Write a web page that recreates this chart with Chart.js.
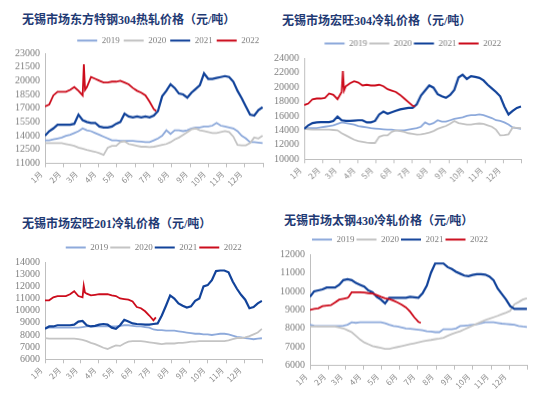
<!DOCTYPE html>
<html lang="zh-CN">
<head>
    <meta charset="UTF-8"/>
    <title>无锡市场不锈钢价格</title>
    <script src="https://cdn.jsdelivr.net/npm/chart.js@4.4.1/dist/chart.umd.min.js"></script>
    <style>
        body { margin: 0; background: #fff; }
        #page { position: relative; width: 554px; height: 404px; overflow: hidden; }
        .panel { position: absolute; }
        .title {
            position: absolute;
            font-family: "Liberation Serif", "Noto Sans CJK SC", serif;
            font-weight: bold;
            font-size: 12px;
            line-height: 14px;
            color: #1f3a74;
            white-space: nowrap;
        }
    </style>
</head>
<body>

<div id="page">
    <div class="title" style="left:22px; top:13px;">无锡市场东方特钢304热轧价格（元/吨）</div>
    <div class="title" style="left:282px; top:14px;">无锡市场宏旺304冷轧价格（元/吨）</div>
    <div class="title" style="left:22px; top:217px;">无锡市场宏旺201冷轧价格（元/吨）</div>
    <div class="title" style="left:284px; top:214px;">无锡市场太钢430冷轧价格（元/吨）</div>

    <div class="panel" style="left:5px; top:32.3px; width:267px; height:154.4px;"><canvas id="hr304"></canvas></div>
    <div class="panel" style="left:264.3px; top:37px; width:265.4px; height:146.3px;"><canvas id="cr304"></canvas></div>
    <div class="panel" style="left:5px; top:241px; width:266.3px; height:142.3px;"><canvas id="cr201"></canvas></div>
    <div class="panel" style="left:270px; top:233px; width:266.3px; height:155.7px;"><canvas id="cr430"></canvas></div>
</div>

<script>

    // x axis: day of year, month labels at month starts
    const months = ['1月', '2月', '3月', '4月', '5月', '6月', '7月', '8月', '9月', '10月', '11月', '12月'];
    const monthStarts = [0, 31, 59, 90, 120, 151, 181, 212, 243, 273, 304, 334, 365];
    const years = ['2019', '2020', '2021', '2022'];

    // weekly sample days for 2019-2021
    const weekDays = [0, 7, 14, 21, 28, 35, 42, 49, 56, 63, 70, 77, 84, 91, 98, 105, 112, 119, 126, 133,
        140, 147, 154, 161, 168, 175, 182, 189, 196, 203, 210, 217, 224, 231, 238, 245, 252, 259, 266, 273,
        280, 287, 294, 301, 308, 315, 322, 329, 336, 343, 350, 357, 364];
    // sample days for 2022 (extra points round the March spike)
    const days2022 = [0, 7, 14, 21, 28, 35, 42, 49, 56, 63, 65, 67, 70, 77, 84, 91, 98, 105, 112, 119,
        126, 133, 140, 147, 154, 161, 168, 175, 182, 186];

    // 东方特钢304热轧
    const hr304_2019 = [13500, 13500, 13600, 13700, 13800, 14000, 14100, 14300, 14500, 14800,
        14600, 14500, 14300, 14100, 13900, 13700, 13500, 13500, 13450, 13450,
        13450, 13450, 13400, 13350, 13300, 13300, 13500, 13700, 14000, 14600,
        14200, 14600, 14600, 14500, 14600, 14800, 14900, 14900, 15000, 15000,
        15100, 15400, 15100, 15000, 14900, 14800, 14500, 14000, 13700, 13300,
        13300, 13250, 13200];
    const hr304_2020 = [13200, 13200, 13200, 13200, 13200, 13100, 13000, 12900, 12700, 12600,
        12450, 12350, 12250, 12100, 11900, 12700, 12900, 12900, 13300, 13400,
        13100, 13000, 12900, 12800, 12800, 12750, 12800, 12900, 13000, 13100,
        13300, 13600, 13800, 14100, 14400, 14700, 14800, 14600, 14500, 14400,
        14300, 14300, 14400, 14500, 14400, 13900, 13000, 12950, 12950, 13200,
        13800, 13700, 14000];
    const hr304_2021 = [14000, 14500, 14800, 15200, 15200, 15200, 15200, 15300, 16300, 15700,
        15500, 15400, 15400, 15000, 14900, 14900, 15000, 15300, 15500, 16400,
        16100, 16000, 16100, 16000, 16100, 16000, 16200, 16700, 18300, 18900,
        19600, 19200, 18600, 18500, 18150, 18700, 19100, 19500, 20800, 20200,
        20200, 20300, 20400, 20500, 20400, 19900, 18900, 18100, 17200, 16300,
        16200, 16800, 17100];
    const hr304_2022 = [17200, 17400, 18400, 18800, 18800, 18800, 19000, 19300, 18900, 18400,
        21800, 19000, 19300, 20400, 20200, 20000, 19800, 19800, 19900, 19900,
        20000, 19800, 19600, 19200, 18900, 18700, 18400, 17700, 16900, 16700];

    // 宏旺304冷轧
    const cr304_2019 = [14300, 14300, 14300, 14300, 14400, 14500, 14600, 14700, 14900, 15100,
        15000, 14900, 14800, 14600, 14500, 14400, 14300, 14250, 14200, 14150,
        14100, 14100, 14000, 14000, 14000, 14100, 14200, 14300, 14500, 15100,
        14800, 15000, 15400, 15200, 15200, 15400, 15600, 15700, 15800, 16000,
        16100, 16100, 16200, 16100, 15900, 15700, 15400, 15300, 15100, 14800,
        14400, 14300, 14200];
    const cr304_2020 = [14200, 14150, 14100, 14100, 14100, 14100, 14100, 14050, 14000, 13600,
        13300, 13000, 12700, 12500, 12400, 12300, 12250, 12250, 13100, 13300,
        13300, 13800, 14000, 13900, 13800, 13600, 13500, 13400, 13450, 13550,
        13700, 13900, 14200, 14400, 14600, 14900, 15300, 15000, 14900, 14800,
        14800, 14900, 14950, 14900, 14700, 14500, 14100, 13300, 13350, 13450,
        14400, 14350, 14300];
    const cr304_2021 = [14200, 14700, 15000, 15100, 15150, 15150, 15150, 15300, 15900, 15400,
        15300, 15300, 15350, 15400, 15400, 15100, 15100, 15300, 16200, 16600,
        16300, 16500, 16700, 16900, 17000, 17100, 17100, 17600, 18800, 19500,
        20200, 19900, 19000, 18700, 18500, 18900, 19600, 21300, 21700, 21100,
        21500, 21400, 21250, 20900, 20300, 19800, 19300, 18700, 17300, 16200,
        16700, 17100, 17300];
    const cr304_2022 = [17500, 17700, 18300, 18400, 18400, 18500, 19100, 18900, 18300, 19300,
        22200, 19500, 20100, 20500, 20800, 20600, 20200, 20300, 20200, 20200,
        20300, 20100, 19700, 19500, 19300, 18900, 18400, 17900, 17400, 17300];

    // 宏旺201冷轧
    const cr201_2019 = [8600, 8600, 8600, 8600, 8600, 8600, 8600, 8600, 8600, 8650,
        8700, 8700, 8700, 8700, 8700, 8700, 8700, 8700, 8750, 8800,
        8800, 8750, 8700, 8700, 8650, 8600, 8450, 8400, 8400, 8350,
        8350, 8350, 8300, 8250, 8200, 8150, 8100, 8100, 8050, 8050,
        8000, 8050, 8100, 8100, 8050, 7950, 7850, 7800, 7750, 7700,
        7650, 7700, 7730];
    const cr201_2020 = [7750, 7700, 7700, 7700, 7700, 7700, 7700, 7700, 7650, 7600,
        7500, 7350, 7250, 7100, 6950, 6850, 7000, 7150, 7100, 7300,
        7450, 7500, 7500, 7500, 7450, 7400, 7350, 7300, 7250, 7300,
        7300, 7300, 7350, 7350, 7400, 7450, 7450, 7500, 7500, 7500,
        7500, 7500, 7500, 7500, 7550, 7650, 7750, 7750, 7800, 7900,
        8050, 8200, 8500];
    const cr201_2021 = [8500, 8700, 8700, 8800, 8800, 8800, 8800, 8850, 9100, 9150,
        8800, 8700, 8750, 8850, 8900, 8850, 8600, 8500, 8800, 9250,
        9100, 8950, 8900, 8880, 8850, 8850, 8900, 8950, 9600, 10400,
        11250, 11000, 10600, 10400, 10250, 10350, 10800, 11000, 12000, 12100,
        12500, 13250, 13300, 13300, 13150, 12400, 11800, 11300, 10900, 10200,
        10300, 10600, 10800];
    const cr201_2022 = [10850, 10850, 11100, 11200, 11200, 11200, 11350, 11600, 11200, 11100,
        12050, 11500, 11400, 11250, 11300, 11350, 11350, 11350, 11250, 11200,
        11000, 10950, 10900, 10750, 10300, 10200, 9950, 9600, 9200, 9450];

    // 太钢430冷轧
    const cr430_2019 = [8200, 8150, 8130, 8130, 8130, 8130, 8130, 8130, 8150, 8200,
        8330, 8300, 8330, 8330, 8330, 8330, 8330, 8330, 8280, 8200,
        8130, 8100, 8050, 8000, 7980, 7960, 7930, 7900, 7850, 7830,
        7800, 7800, 7960, 7960, 7960, 8000, 8130, 8150, 8170, 8200,
        8230, 8280, 8330, 8330, 8330, 8300, 8260, 8240, 8220, 8200,
        8130, 8100, 8080];
    const cr430_2020 = [8100, 8100, 8100, 8100, 8100, 8100, 8100, 8050, 8000, 7900,
        7800, 7600, 7400, 7250, 7150, 7050, 7000, 6950, 6900, 6900,
        6950, 7000, 7050, 7100, 7150, 7200, 7250, 7300, 7350, 7380,
        7420, 7450, 7500, 7600, 7700, 7780, 7850, 7950, 8050, 8150,
        8250, 8350, 8450, 8520, 8600, 8680, 8770, 8850, 8950, 9300,
        9420, 9550, 9620];
    const cr430_2021 = [9700, 10000, 10050, 10100, 10200, 10200, 10200, 10350, 10600, 10650,
        10600, 10450, 10350, 10250, 10050, 9950, 9700, 9550, 9350, 9650,
        9650, 9650, 9650, 9650, 9700, 9680, 9650, 9900, 10300, 11000,
        11500, 11500, 11500, 11300, 11200, 11050, 10950, 10850, 10820, 10880,
        10920, 10920, 10900, 10800, 10600, 10150, 9850, 9550, 9200, 9050,
        9050, 9050, 9050];
    const cr430_2022 = [9000, 9050, 9080, 9200, 9230, 9250, 9400, 9550, 9600, 9650,
        9700, 9800, 9950, 9950, 9950, 9930, 9900, 9880, 9800, 9700,
        9620, 9580, 9500, 9400, 9280, 9130, 8900, 8600, 8350, 8300];

    const colors = ['#8eaadb', '#c4c4c4', '#12439a', '#cc0c1c'];
    const widths = [1.8, 1.8, 2.2, 1.8];
    const axisGrey = '#bfbfbf';
    const textGrey = '#7f7f7f';

    Chart.defaults.animation = false;

    function toPoints(days, values) {
        return days.map((d, i) => ({x: d, y: values[i]}));
    }

    function makeChart(id, series, yMin, yMax, yStep, legendAlign, legendPad) {
        const dayGrids = [weekDays, weekDays, weekDays, days2022];
        const ctx = document.getElementById(id).getContext('2d');
        return new Chart(ctx, {
            type: 'line',
            data: {
                datasets: series.map((values, i) => ({
                    label: years[i],
                    data: toPoints(dayGrids[i], values),
                    borderColor: colors[i],
                    backgroundColor: colors[i],
                    borderWidth: widths[i],
                    pointRadius: 0,
                    tension: 0,
                    // later years drawn on top
                    order: 4 - i
                }))
            },
            options: {
                responsive: true,
                maintainAspectRatio: false,
                layout: {padding: {right: 4}},
                scales: {
                    x: {
                        type: 'linear',
                        min: 0,
                        max: 365,
                        afterBuildTicks: axis => {
                            axis.ticks = monthStarts.map(v => ({value: v}));
                        },
                        afterFit: axis => {
                            axis.height = 24;
                        },
                        ticks: {
                            autoSkip: false,
                            minRotation: 45,
                            maxRotation: 45,
                            padding: 2,
                            labelOffset: -4,
                            color: '#8c8c8c',
                            font: {family: 'Noto Sans CJK SC', size: 8},
                            callback: (value, index) => months[index] || ''
                        },
                        grid: {drawOnChartArea: false, tickLength: 4, color: axisGrey},
                        border: {color: axisGrey}
                    },
                    y: {
                        min: yMin,
                        max: yMax,
                        afterFit: axis => {
                            axis.width = 40;
                        },
                        ticks: {
                            stepSize: yStep,
                            autoSkip: false,
                            padding: 5,
                            color: textGrey,
                            font: {family: 'Liberation Serif', size: 10},
                            callback: value => String(value)
                        },
                        grid: {drawOnChartArea: false, drawTicks: false},
                        border: {display: true, color: axisGrey}
                    }
                },
                plugins: {
                    legend: {
                        position: 'top',
                        align: legendAlign,
                        fullSize: false,
                        maxHeight: 21,
                        labels: {
                            usePointStyle: true,
                            pointStyle: 'line',
                            pointStyleWidth: 20,
                            padding: legendPad,
                            color: textGrey,
                            font: {family: 'Liberation Serif', size: 9},
                            sort: (a, b) => a.datasetIndex - b.datasetIndex
                        }
                    },
                    tooltip: {enabled: false}
                }
            }
        });
    }

    makeChart('hr304', [hr304_2019, hr304_2020, hr304_2021, hr304_2022], 11000, 23000, 1500, 'end', 4);
    makeChart('cr304', [cr304_2019, cr304_2020, cr304_2021, cr304_2022], 10000, 24000, 2000, 'center', 2);
    makeChart('cr201', [cr201_2019, cr201_2020, cr201_2021, cr201_2022], 6000, 14000, 1000, 'center', 2);
    makeChart('cr430', [cr430_2019, cr430_2020, cr430_2021, cr430_2022], 6000, 12000, 1000, 'start', 2);

</script>

</body>
</html>
